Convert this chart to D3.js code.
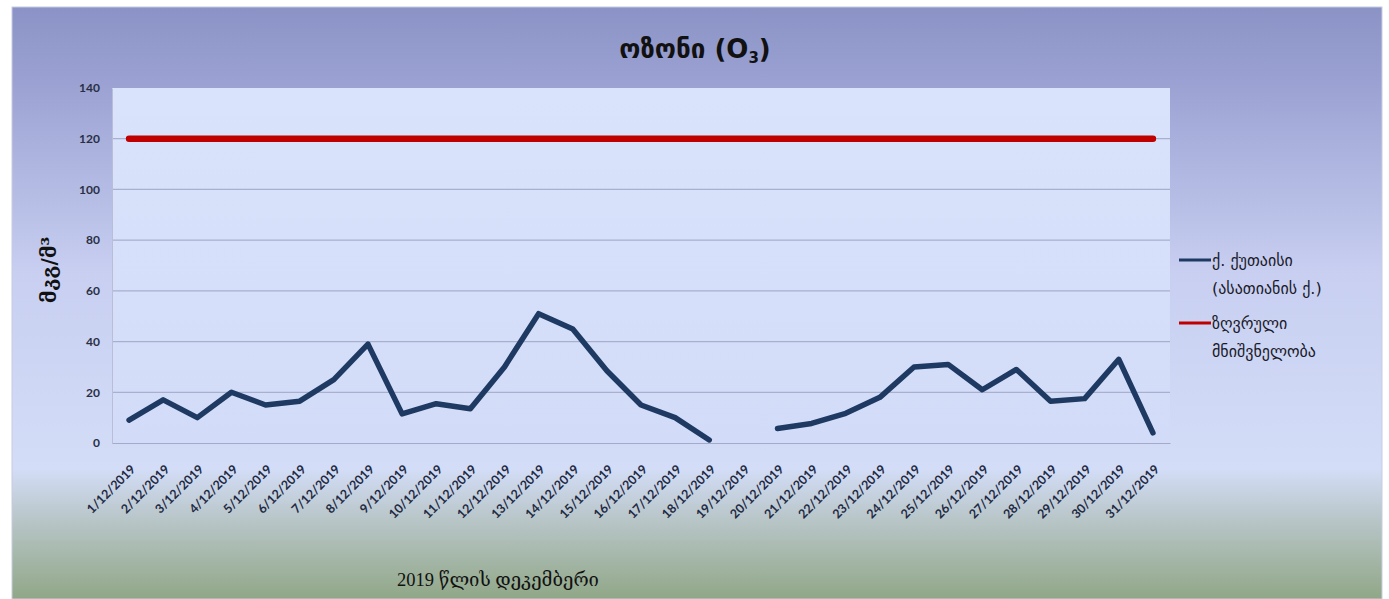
<!DOCTYPE html>
<html>
<head>
<meta charset="utf-8">
<script src="https://cdn.jsdelivr.net/npm/d3@7"></script>
<style>
  html, body { margin: 0; padding: 0; background: #ffffff; }
  svg { display: block; }
</style>
</head>
<body>
<svg id="chart" width="1389" height="599"></svg>
<script>
// Daily ozone concentration, Kutaisi (Asatiani st.), December 2019
const days = d3.range(1, 32).map(d => `${d}/12/2019`);
const kutaisi = [9, 17, 10, 20, 15, 16.5, 25, 39, 11.5, 15.5, 13.5, 30, 51, 45,
                 28.5, 15, 10, 1.2, null, 5.7, 7.7, 11.7, 18, 30, 31, 21, 29, 16.5, 17.5, 33, 4];
const limitValue = 120;
const limit = days.map(() => limitValue);
const yTicks = [0, 20, 40, 60, 80, 100, 120, 140];

const svg = d3.select("#chart");
const W = 1389, H = 599;

// background gradient of the chart area
const defs = svg.append("defs");
const bg = defs.append("linearGradient").attr("id", "bg").attr("x1", 0).attr("x2", 0).attr("y1", 0).attr("y2", 1);
[[0, "#8b92c5"], [0.12, "#9aa1d2"], [0.45, "#c8cff1"], [0.78, "#d3ddf7"], [0.86, "#bac7cb"], [1, "#90a787"]]
  .forEach(([o, c]) => bg.append("stop").attr("offset", o).attr("stop-color", c));
const pg = defs.append("linearGradient").attr("id", "plotbg").attr("x1", 0).attr("x2", 0).attr("y1", 0).attr("y2", 1);
[[0, "#d9e3fb"], [1, "#d2dcf8"]].forEach(([o, c]) => pg.append("stop").attr("offset", o).attr("stop-color", c));

svg.append("rect").attr("x", 12).attr("y", 7).attr("width", 1370).attr("height", H - 7)
  .attr("fill", "url(#bg)").attr("stroke", "#c8cce0").attr("stroke-width", 1);

const m = { left: 112, right: 1170, top: 88, bottom: 443 };

const x = d3.scaleBand().domain(days).range([m.left, m.right]);
const y = d3.scaleLinear().domain([0, 140]).range([m.bottom, m.top]);
const cx = d => x(d) + x.bandwidth() / 2;

svg.append("rect").attr("x", m.left).attr("y", m.top)
  .attr("width", m.right - m.left).attr("height", m.bottom - m.top)
  .attr("fill", "url(#plotbg)");

// gridlines
svg.append("g")
  .selectAll("line").data(yTicks.filter(t => t > 0 && t < 140)).join("line")
  .attr("x1", m.left).attr("x2", m.right)
  .attr("y1", d => y(d)).attr("y2", d => y(d))
  .attr("stroke", "#a9afcf").attr("stroke-width", 1.2);

// y axis
const yAxis = svg.append("g").attr("transform", `translate(${m.left},0)`)
  .call(d3.axisLeft(y).tickValues(yTicks).tickSize(0).tickPadding(12));
yAxis.select(".domain").attr("stroke", "#b9bed8");
yAxis.selectAll("text").attr("font-family", "Lato, 'Open Sans', sans-serif")
  .attr("font-weight", 700).attr("font-size", 12).attr("fill", "#2a2f45");

// x axis
const xAxis = svg.append("g").attr("transform", `translate(0,${m.bottom})`)
  .call(d3.axisBottom(x).tickSize(0).tickFormat(d => d));
xAxis.select(".domain").attr("stroke", "#a4aacb").attr("stroke-width", 1.2);
xAxis.selectAll(".tick text")
  .attr("font-family", "Lato, 'Open Sans', sans-serif")
  .attr("font-weight", 700).attr("font-size", 12.5).attr("fill", "#1f2a44")
  .attr("text-anchor", "end")
  .attr("transform", "translate(4,24) rotate(-45)")
  .attr("x", 0).attr("y", 0).attr("dy", "0.35em");

// limit line
const line = d3.line().defined(d => d[1] != null).x(d => cx(d[0])).y(d => y(d[1]));
svg.append("path").datum(days.map((d, i) => [d, limit[i]]))
  .attr("d", line).attr("fill", "none")
  .attr("stroke", "#c00000").attr("stroke-width", 6.5).attr("stroke-linecap", "round");

// Kutaisi series
svg.append("path").datum(days.map((d, i) => [d, kutaisi[i]]))
  .attr("d", line).attr("fill", "none")
  .attr("stroke", "#1f3a62").attr("stroke-width", 5.5)
  .attr("stroke-linejoin", "round").attr("stroke-linecap", "round");

// title
const title = svg.append("text").attr("x", 695).attr("y", 58).attr("text-anchor", "middle")
  .attr("font-family", "'DejaVu Sans', sans-serif").attr("font-weight", 700)
  .attr("font-size", 26).attr("fill", "#111");
title.append("tspan").text("ოზონი (O");
title.append("tspan").attr("font-size", 15).attr("dy", 5).text("3");
title.append("tspan").attr("dy", -5).text(")");

// axis titles
svg.append("text").attr("transform", "translate(56,270) rotate(-90)").attr("text-anchor", "middle")
  .attr("font-family", "'DejaVu Serif', serif").attr("font-weight", 700)
  .attr("font-size", 20).attr("fill", "#111")
  .text("მკგ/მ³");
svg.append("text").attr("x", 498).attr("y", 586).attr("text-anchor", "middle")
  .attr("font-family", "'Liberation Serif', 'DejaVu Serif', serif").attr("font-size", 18.5).attr("fill", "#111")
  .text("2019 წლის დეკემბერი");

// legend
const legend = [
  { color: "#1f3a62", lines: ["ქ. ქუთაისი", "(ასათიანის ქ.)"], y: 260 },
  { color: "#c00000", lines: ["ზღვრული", "მნიშვნელობა"], y: 323 }
];
const lg = svg.append("g");
legend.forEach(l => {
  lg.append("line").attr("x1", 1179).attr("x2", 1211).attr("y1", l.y).attr("y2", l.y)
    .attr("stroke", l.color).attr("stroke-width", 3);
  const t = lg.append("text").attr("x", 1212).attr("y", l.y + 6)
    .attr("font-family", "'DejaVu Sans', sans-serif").attr("font-size", 16).attr("fill", "#1a1a2a");
  l.lines.forEach((s, i) => t.append("tspan").attr("x", 1212).attr("dy", i ? 28 : 0).text(s));
});
</script>
</body>
</html>
